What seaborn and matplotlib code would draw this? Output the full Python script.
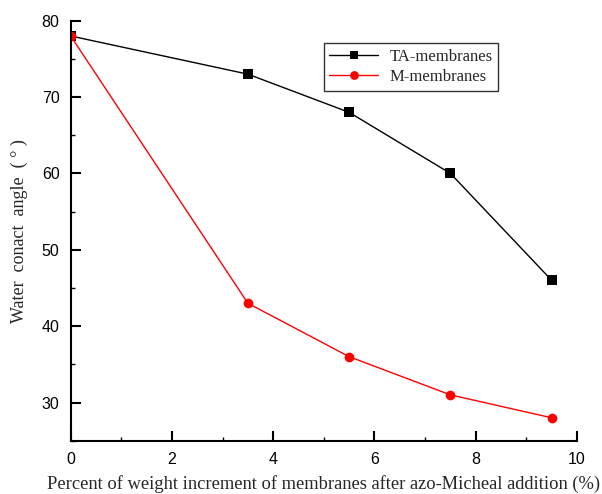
import matplotlib
matplotlib.use("Agg")
import matplotlib.pyplot as plt
import seaborn as sns
import pandas as pd
from matplotlib.ticker import MultipleLocator

# Weight increment (%) and water contact angle (deg)
weight_increment = [0, 3.5, 5.5, 7.5, 9.5]
ta_angle = [78, 73, 68, 60, 46]
m_angle = [78, 43, 36, 31, 28]
series_names = ["TA-membranes", "M-membranes"]

df = pd.DataFrame({
    "x": weight_increment * 2,
    "angle": ta_angle + m_angle,
    "series": [series_names[0]] * len(ta_angle) + [series_names[1]] * len(m_angle),
})

sns.set_style("ticks")
plt.rcParams["font.family"] = ["Liberation Sans", "DejaVu Sans"]

fig = plt.figure(figsize=(6.02, 4.94), dpi=100)
ax = fig.add_axes([0.1174, 0.1079, 0.8411, 0.8502])

sns.lineplot(data=df, x="x", y="angle", hue="series", style="series",
             palette={series_names[0]: "black", series_names[1]: "#ff0000"},
             markers={series_names[0]: "s", series_names[1]: "o"},
             dashes=False, markersize=7, markeredgewidth=0, linewidth=1,
             ax=ax)

ax.set_xlim(0, 10)
ax.set_ylim(25, 80)
ax.xaxis.set_major_locator(MultipleLocator(2))
ax.xaxis.set_minor_locator(MultipleLocator(1))
ax.yaxis.set_major_locator(MultipleLocator(10))
ax.yaxis.set_minor_locator(MultipleLocator(5))
ax.tick_params(which="major", direction="in", length=7, width=1.5, labelsize=11.5,
               colors="black")
ax.tick_params(axis="x", which="major", pad=8)
ax.tick_params(axis="y", which="major", pad=8)
ax.tick_params(which="minor", direction="in", length=3, width=1, colors="black")

for side in ("top", "right"):
    ax.spines[side].set_visible(False)
for side in ("left", "bottom"):
    ax.spines[side].set_linewidth(1.5)
    ax.spines[side].set_color("black")

serif = ["Liberation Serif", "DejaVu Serif"]
ax.set_xlabel("Percent of weight increment of membranes after azo-Micheal addition (%)",
              family=serif, fontsize=13.3, labelpad=6)
ax.set_ylabel("Water  conact  angle  ( ° )", family=serif, fontsize=13, labelpad=10)

leg = ax.legend(loc="upper left", bbox_to_anchor=(0.4996, 0.947), frameon=True,
                fancybox=False, edgecolor="black", prop={"family": serif, "size": 12},
                handlelength=2.9, handletextpad=0.7, borderpad=0.35, labelspacing=0.25,
                borderaxespad=0, markerscale=0.9)
leg.get_frame().set_linewidth(1)

fig.savefig("out.png", dpi=100)
